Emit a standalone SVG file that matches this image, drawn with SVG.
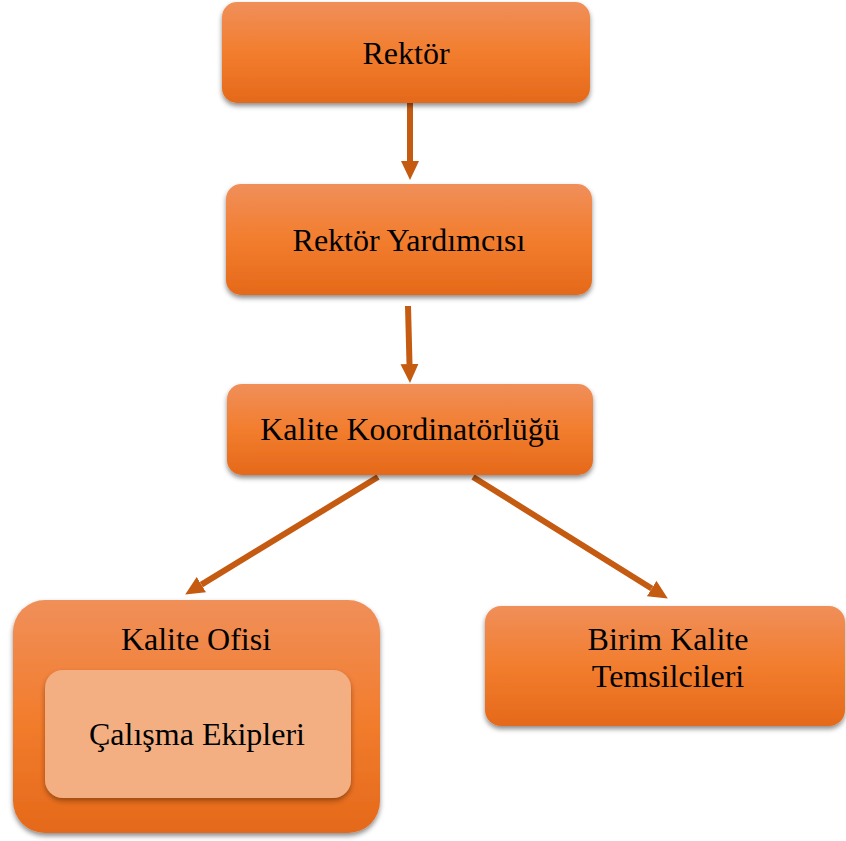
<svg xmlns="http://www.w3.org/2000/svg" width="846" height="841" viewBox="0 0 846 841">
  <style>
    .lbl { font-family: "Liberation Serif", "Times New Roman", serif; font-size: 32px; fill: #000; text-anchor: middle; }
    .box { fill: url(#og); filter: url(#sh); }
    .inner { fill: #F3AF82; filter: url(#sh2); }
    .conn { stroke: #C55A11; stroke-width: 6; fill: none; marker-end: url(#ah); }
  </style>
  <defs>
    <linearGradient id="og" x1="0" y1="0" x2="0" y2="1">
      <stop offset="0" stop-color="#F08F5A"/>
      <stop offset="0.5" stop-color="#F27D2E"/>
      <stop offset="1" stop-color="#E5691A"/>
    </linearGradient>
    <filter id="sh" x="-10%" y="-10%" width="120%" height="130%">
      <feDropShadow dx="0" dy="3" stdDeviation="2.5" flood-color="#000" flood-opacity="0.45"/>
    </filter>
    <filter id="sh2" x="-10%" y="-10%" width="120%" height="130%">
      <feDropShadow dx="0" dy="3" stdDeviation="2.5" flood-color="#5a2a00" flood-opacity="0.55"/>
    </filter>
    <marker id="ah" markerUnits="userSpaceOnUse" markerWidth="20" markerHeight="20" refX="0" refY="9" orient="auto">
      <path d="M0,0 L19,9 L0,18 z" fill="#C55A11"/>
    </marker>
  </defs>

  <g id="connectors">
    <line class="conn" x1="410" y1="103" x2="410" y2="161"/>
    <line class="conn" x1="408" y1="306" x2="409.5" y2="364"/>
    <line class="conn" x1="378" y1="477" x2="201.4" y2="584.6"/>
    <line class="conn" x1="473" y1="477" x2="651.7" y2="588.5"/>
  </g>

  <g id="rektor">
    <rect class="box" x="222" y="2" width="368" height="101" rx="15"/>
    <text class="lbl" x="406" y="64">Rektör</text>
  </g>

  <g id="rektor-yardimcisi">
    <rect class="box" x="226" y="184" width="366" height="111" rx="15"/>
    <text class="lbl" x="409" y="251">Rektör Yardımcısı</text>
  </g>

  <g id="kalite-koordinatorlugu">
    <rect class="box" x="227" y="384" width="366" height="91" rx="15"/>
    <text class="lbl" x="410" y="440">Kalite Koordinatörlüğü</text>
  </g>

  <g id="kalite-ofisi">
    <rect class="box" x="13" y="600" width="367" height="233" rx="32"/>
    <text class="lbl" x="196" y="650">Kalite Ofisi</text>
  </g>

  <g id="calisma-ekipleri">
    <rect class="inner" x="45" y="670" width="306" height="128" rx="18"/>
    <text class="lbl" x="197" y="745">Çalışma Ekipleri</text>
  </g>

  <g id="birim-kalite-temsilcileri">
    <rect class="box" x="485" y="606" width="360" height="120" rx="16"/>
    <text class="lbl" x="668" y="650">Birim Kalite</text>
    <text class="lbl" x="668" y="687">Temsilcileri</text>
  </g>
</svg>
